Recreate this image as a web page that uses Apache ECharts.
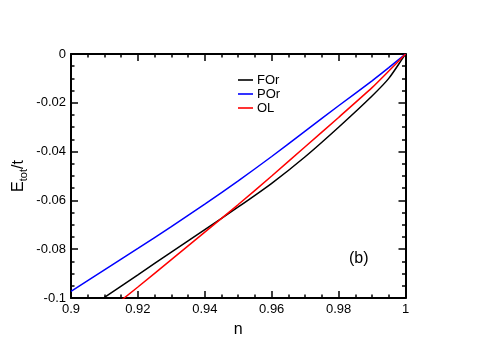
<!DOCTYPE html>
<html>
<head>
<meta charset="utf-8">
<script src="https://cdn.jsdelivr.net/npm/echarts@6/dist/echarts.min.js"></script>
<style>html,body{margin:0;padding:0;background:#fff}#c{width:486px;height:343px}</style>
</head>
<body>
<div id="c"></div>
<script>
var nVals = [0.90, 0.91, 0.92, 0.93, 0.94, 0.95, 0.96, 0.97, 0.98, 0.99, 0.995, 1.00];
var forVals = [-0.1085, -0.0997, -0.0905, -0.0812, -0.0720, -0.0627, -0.0530, -0.0421, -0.0300, -0.0172, -0.0100, 0];
var porVals = [-0.0973, -0.0885, -0.0797, -0.0707, -0.0615, -0.0520, -0.0420, -0.0316, -0.0212, -0.0110, -0.0056, 0];
var olVals  = [-0.1180, -0.1065, -0.0955, -0.0843, -0.0730, -0.0617, -0.0500, -0.0380, -0.0260, -0.0138, -0.0070, 0];
var seriesNames = ['FOr', 'POr', 'OL'];
var seriesColors = ['#000000', '#0000ff', '#ff0000'];

function pairs(ys){ return nVals.map(function(n,i){ return [n, ys[i]]; }); }
var allVals = [forVals, porVals, olVals];

var FONT = 'Liberation Sans, Arial, sans-serif';
var chart = echarts.init(document.getElementById('c'), null, {renderer:'canvas'});
function fmt(v){ return String(parseFloat(v.toFixed(3))); }
var axisCommon = {
  axisLine:{show:true, onZero:false, lineStyle:{color:'#000', width:2}},
  axisTick:{show:true, inside:true, length:7, lineStyle:{color:'#000', width:1.5}},
  minorTick:{show:true, splitNumber:4, length:3.5, lineStyle:{color:'#000', width:1.5}},
  splitLine:{show:false}
};
chart.setOption({
  animation:false,
  backgroundColor:'#fff',
  grid:{left:71, right:80.5, top:54, bottom:44},
  legend:{
    orient:'vertical', left:233, top:68, itemGap:0,
    icon:'rect', itemWidth:15, itemHeight:1.6,
    textStyle:{fontFamily:FONT, fontSize:13, color:'#000', lineHeight:14, padding:[0,0,0,-1]},
    data:seriesNames
  },
  xAxis:[
    Object.assign({type:'value', position:'bottom', min:0.9, max:1, interval:0.02,
      name:'n', nameLocation:'middle', nameGap:24, nameMoveOverlap:false,
      nameTextStyle:{fontFamily:FONT, fontSize:16, color:'#000'},
      axisLabel:{fontFamily:FONT, fontSize:13, color:'#000', margin:5, formatter:fmt}}, axisCommon),
    Object.assign({type:'value', position:'top', min:0.9, max:1, interval:0.02,
      axisLabel:{show:false}}, axisCommon)
  ],
  yAxis:[
    Object.assign({type:'value', position:'left', min:-0.1, max:0, interval:0.02,
      name:'{e|E}{s|tot}{e|/t}', nameLocation:'middle', nameRotate:90, nameGap:42, nameMoveOverlap:false,
      nameTextStyle:{fontFamily:FONT, color:'#000',
        rich:{e:{fontFamily:FONT, fontSize:16, color:'#000'},
              s:{fontFamily:FONT, fontSize:11, color:'#000', padding:[9,0,0,0]}}},
      axisLabel:{fontFamily:FONT, fontSize:13, color:'#000', margin:5, formatter:fmt}}, axisCommon),
    Object.assign({type:'value', position:'right', min:-0.1, max:0, interval:0.02,
      axisLabel:{show:false}}, axisCommon)
  ],
  graphic:[{type:'text', left:349, top:251, style:{text:'(b)', font:'16px Liberation Sans, Arial, sans-serif', fill:'#000'}}],
  series: seriesNames.map(function(name,i){
    return {name:name, type:'line', data:pairs(allVals[i]), showSymbol:false,
      smooth:0.2, clip:true,
      lineStyle:{color:seriesColors[i], width:1.5}, itemStyle:{color:seriesColors[i]}};
  })
});
</script>
</body>
</html>
